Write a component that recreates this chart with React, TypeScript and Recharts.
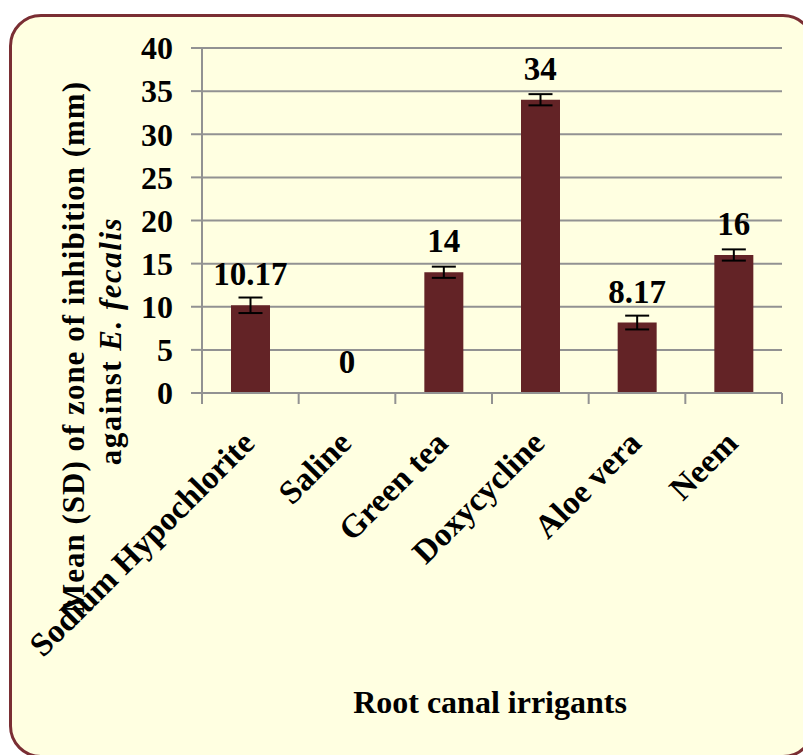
import React from 'react';
import { ComposedChart, Bar, Line, XAxis, YAxis, CartesianGrid, ErrorBar, LabelList, Label } from 'recharts';

const CATEGORIES = ['Sodium Hypochlorite', 'Saline', 'Green tea', 'Doxycycline', 'Aloe vera', 'Neem'];
const MEANS = [10.17, 0, 14, 34, 8.17, 16];
const SDS = [0.9, 0, 0.65, 0.65, 0.8, 0.65];
const Y_TICKS = [0, 5, 10, 15, 20, 25, 30, 35, 40];

const data = CATEGORIES.map((name, i) => ({ name, mean: MEANS[i], sd: SDS[i] }));

const FONT = '"Liberation Serif", "Times New Roman", serif';
const BAR_COLOR = '#632326';
const GRID_COLOR = '#929292';

const W = 803;
const H = 755;
const PLOT_LEFT = 202;
const PLOT_RIGHT = 782;
const BAND = (PLOT_RIGHT - PLOT_LEFT) / CATEGORIES.length;

const textStyle = { fontFamily: FONT, fontWeight: 'bold' as const };

const XTick = (props: any) => {
  const { x, y, payload, index } = props;
  const half = BAND / 2;
  return (
    <g>
      <line x1={x - half} y1={y} x2={x - half} y2={y + 11} stroke={GRID_COLOR} strokeWidth={2} />
      {index === CATEGORIES.length - 1 && (
        <line x1={x + half} y1={y} x2={x + half} y2={y + 11} stroke={GRID_COLOR} strokeWidth={2} />
      )}
      <text
        transform={`translate(${x + 6},${y + 52}) rotate(-45)`}
        textAnchor="end"
        style={{ ...textStyle, fontSize: 33 }}
        fill="#000"
      >
        {payload.value}
      </text>
    </g>
  );
};

const YTitle = () => (
  <g fill="#000">
    <text
      transform="translate(73,347) rotate(-90)"
      textAnchor="middle"
      dy="0.35em"
      style={{ ...textStyle, fontSize: 31, letterSpacing: 1 }}
    >
      Mean (SD) of zone of inhibition  (mm)
    </text>
    <text
      transform="translate(110,341) rotate(-90)"
      textAnchor="middle"
      dy="0.35em"
      style={{ ...textStyle, fontSize: 31, letterSpacing: 1.5 }}
    >
      against <tspan fontStyle="italic">E. fecalis</tspan>
    </text>
  </g>
);

const XTitle = () => (
  <text x={490} y={713} textAnchor="middle" style={{ ...textStyle, fontSize: 32 }} fill="#000">
    Root canal irrigants
  </text>
);

export default function App() {
  return (
    <div style={{ position: 'fixed', left: 0, top: 0, width: W, height: H, background: '#fff', overflow: 'hidden' }}>
      <div
        style={{
          position: 'absolute',
          left: 9,
          top: 14,
          width: 800,
          height: 738,
          border: '3px solid #7a2e33',
          borderRadius: 32,
          background: '#ffffe1',
        }}
      />
      <div style={{ position: 'absolute', left: 0, top: 0 }}>
        <ComposedChart
          width={W}
          height={H}
          data={data}
          margin={{ top: 48, right: W - PLOT_RIGHT, bottom: 212, left: PLOT_LEFT - 100 }}
        >
          <CartesianGrid vertical={false} stroke={GRID_COLOR} strokeWidth={2} />
          <XAxis
            dataKey="name"
            interval={0}
            height={150}
            tickLine={false}
            tickSize={0}
            tickMargin={0}
            axisLine={{ stroke: GRID_COLOR, strokeWidth: 2 }}
            tick={<XTick />}
          >
            <Label content={<XTitle />} />
          </XAxis>
          <YAxis
            width={100}
            domain={[0, 40]}
            ticks={Y_TICKS}
            interval={0}
            tickSize={11}
            tickMargin={18}
            tickLine={{ stroke: GRID_COLOR, strokeWidth: 2 }}
            axisLine={{ stroke: GRID_COLOR, strokeWidth: 2 }}
            tick={{ fontFamily: FONT, fontWeight: 'bold', fontSize: 32, fill: '#000' }}
          >
            <Label content={<YTitle />} />
          </YAxis>
          <Bar dataKey="mean" fill={BAR_COLOR} barSize={39} isAnimationActive={false}>
            <ErrorBar dataKey="sd" width={12} stroke="#000" strokeWidth={2} isAnimationActive={false} />
          </Bar>
          {/* invisible line carries the value labels so the zero bar gets one too */}
          <Line
            dataKey="mean"
            stroke="none"
            dot={false}
            activeDot={false}
            legendType="none"
            isAnimationActive={false}
          >
            <LabelList
              dataKey="mean"
              position="top"
              offset={20}
              fontFamily={FONT}
              fontWeight="bold"
              fontSize={33}
              fill="#000"
            />
          </Line>
        </ComposedChart>
      </div>
    </div>
  );
}
